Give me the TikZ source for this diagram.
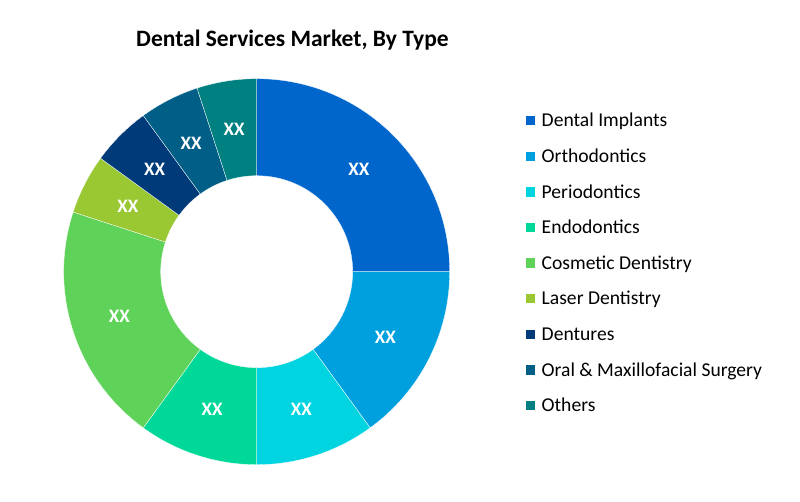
\documentclass[tikz,border=0pt]{standalone}
\usepackage{fontspec}
\setmainfont{Carlito}
\usepackage{tikz}

\definecolor{implants}{RGB}{0,102,204}
\definecolor{ortho}{RGB}{0,160,222}
\definecolor{perio}{RGB}{0,212,224}
\definecolor{endo}{RGB}{0,216,154}
\definecolor{cosmetic}{RGB}{95,210,90}
\definecolor{laser}{RGB}{153,200,50}
\definecolor{dentures}{RGB}{0,58,120}
\definecolor{oral}{RGB}{0,94,135}
\definecolor{others}{RGB}{0,128,128}

\tikzset{
    slicelabel/.style={text=white, inner sep=0pt, font=\bfseries\fontsize{19}{19}\selectfont},
    legtext/.style={anchor=base west, inner sep=0pt, font=\fontsize{19.6}{19.6}\selectfont},
    legbox/.style={minimum size=9.3, inner sep=0pt},
}

\begin{document}
\begin{tikzpicture}[x=1pt, y=1pt]
        \useasboundingbox (0,0) rectangle (800,502);
        \node[anchor=base, font=\bfseries\fontsize{23.5}{23.5}\selectfont] (title) at (292.5,455.3) {Dental Services Market, By Type};
        \begin{scope}[shift={(256.7,230.3)}]
            \foreach \a/\b/\col [count=\i] in {90/0/implants, 0/-54/ortho, -54/-90/perio, -90/-126/endo, -126/-198/cosmetic, -198/-216/laser, -216/-234/dentures, -234/-252/oral, -252/-270/others}
            {
                \fill[\col, draw=white, line width=.3] (\a:193) arc[start angle=\a, end angle=\b, radius=193] -- (\b:96) arc[start angle=\b, end angle=\a, radius=96] -- cycle;
                \node[slicelabel] (xx\i) at ({(\a+\b)/2}:144.5) {XX};
            }
        \end{scope}
        \foreach \name/\col [count=\i] in {Dental Implants/implants, Orthodontics/ortho, Periodontics/perio, Endodontics/endo, Cosmetic Dentistry/cosmetic, Laser Dentistry/laser, Dentures/dentures, Oral \& Maxillofacial Surgery/oral, Others/others}
        {
            \node[legbox, fill=\col] (box\i) at (530.3, {381.3-(\i-1)*35.6}) {};
            \node[legtext] (leg\i) at (541.5, {375-(\i-1)*35.6}) {\name};
        }
    \end{tikzpicture}
\end{document}
